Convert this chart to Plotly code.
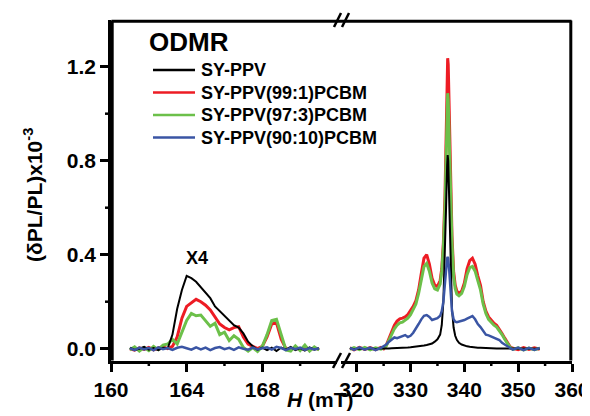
import plotly.graph_objects as go

# ---------------- data ----------------
series_names = ["SY-PPV", "SY-PPV(99:1)PCBM", "SY-PPV(97:3)PCBM", "SY-PPV(90:10)PCBM"]
series_colors = ["#000000", "#ed1c24", "#6cc04a", "#3a55a4"]

# left panel (half-field region)
x_left = [161.0, 161.25, 161.5, 161.75, 162.0, 162.25, 162.5, 162.75, 163.0, 163.25,
          163.5, 163.75, 164.0, 164.25, 164.5, 164.75, 165.0, 165.25, 165.5, 165.75,
          166.0, 166.25, 166.5, 166.75, 167.0, 167.25, 167.5, 167.75, 168.0, 168.25,
          168.5, 168.75, 169.0, 169.25, 169.5, 169.75, 170.0, 170.25, 170.5, 170.75, 171.0]

black_left = [0.005, -0.005, 0.0, 0.008, -0.004, 0.003, -0.006, 0.004, 0.002, 0.06,
              0.17, 0.25, 0.31, 0.30, 0.285, 0.26, 0.24, 0.215, 0.18, 0.16,
              0.14, 0.12, 0.10, 0.09, 0.065, 0.03, 0.01, -0.005, 0.005, -0.006,
              0.004, -0.01, 0.005, -0.004, 0.008, -0.006, 0.003, -0.008, 0.006, -0.004, 0.002]

red_left = [0.0, -0.006, 0.004, -0.003, 0.006, -0.005, 0.003, 0.008, 0.0, 0.01,
            0.05, 0.13, 0.18, 0.195, 0.21, 0.20, 0.185, 0.165, 0.135, 0.105,
            0.09, 0.08, 0.09, 0.094, 0.05, 0.02, 0.01, 0.0, 0.01, 0.05,
            0.105, 0.11, 0.04, 0.0, -0.005, 0.006, -0.004, 0.005, -0.006, 0.004, -0.003]

green_left = [-0.005, 0.008, -0.01, 0.005, -0.008, 0.01, -0.004, 0.015, 0.02, 0.04,
              0.02, 0.07, 0.12, 0.15, 0.14, 0.143, 0.12, 0.095, 0.108, 0.06,
              0.07, 0.035, 0.055, 0.04, 0.005, -0.01, 0.005, -0.012, 0.01, 0.06,
              0.12, 0.125, 0.06, -0.005, -0.01, 0.012, -0.008, 0.015, -0.01, 0.008, -0.006]

blue_left = [0.002, -0.006, 0.005, -0.003, 0.004, -0.007, 0.006, -0.002, 0.003, -0.005,
             0.004, 0.008, 0.002, -0.004, 0.006, -0.003, 0.005, -0.006, 0.003, 0.007,
             -0.002, 0.004, -0.005, 0.006, 0.0, -0.004, 0.005, -0.003, 0.002, 0.006,
             -0.004, 0.008, 0.003, -0.006, 0.004, -0.002, 0.005, -0.005, 0.003, -0.003, 0.002]

# right panel (g ~ 2 region)
x_right = [318.75, 319.5, 320.5, 321.5, 322.5, 323.5, 324.5, 325.0, 325.5, 326.0,
           326.5, 327.0, 327.5, 328.0, 328.5, 329.0, 329.5, 330.0, 330.5, 331.0,
           331.5, 332.0, 332.5, 333.0, 333.5, 334.0, 334.5, 335.0, 335.5, 335.8,
           336.1, 336.4, 336.6, 336.8, 336.9, 337.0, 337.2, 337.4, 337.7, 338.0,
           338.3, 338.6, 339.0, 339.5, 340.0, 340.5, 341.0, 341.5, 342.0, 342.5,
           343.0, 343.5, 344.0, 344.5, 345.0, 345.5, 346.0, 346.5, 347.0, 347.5,
           348.0, 348.5, 349.0, 350.0, 351.0, 352.0, 353.0, 354.0]

black_right = [0.002, -0.002, 0.001, -0.002, 0.002, -0.001, 0.001, 0.0, 0.001, 0.001,
               0.002, 0.002, 0.003, 0.003, 0.004, 0.004, 0.005, 0.006, 0.007, 0.008,
               0.01, 0.012, 0.014, 0.016, 0.019, 0.022, 0.03, 0.04, 0.06, 0.10,
               0.20, 0.40, 0.60, 0.78, 0.824, 0.80, 0.60, 0.35, 0.17, 0.09,
               0.055, 0.038, 0.025, 0.018, 0.013, 0.01, 0.008, 0.006, 0.005, 0.004,
               0.004, 0.003, 0.003, 0.002, 0.002, 0.002, 0.001, 0.001, 0.001, 0.0,
               0.001, 0.0, 0.001, 0.0, 0.001, -0.001, 0.001, 0.0]

red_right = [0.004, -0.005, 0.006, -0.003, 0.005, -0.004, 0.006, 0.0, 0.015, 0.045,
             0.075, 0.10, 0.118, 0.127, 0.13, 0.135, 0.145, 0.16, 0.18, 0.205,
             0.25, 0.32, 0.385, 0.40, 0.36, 0.30, 0.27, 0.265, 0.29, 0.34,
             0.45, 0.65, 0.88, 1.15, 1.236, 1.21, 1.0, 0.74, 0.48, 0.33,
             0.27, 0.245, 0.235, 0.245, 0.28, 0.34, 0.375, 0.385, 0.36, 0.31,
             0.27, 0.20, 0.16, 0.135, 0.12, 0.108, 0.10, 0.085, 0.065, 0.045,
             0.025, 0.008, 0.002, -0.004, 0.005, -0.003, 0.004, -0.002]

green_right = [-0.003, 0.005, -0.004, 0.006, -0.005, 0.004, -0.002, 0.003, 0.012, 0.035,
               0.06, 0.085, 0.10, 0.11, 0.113, 0.12, 0.13, 0.145, 0.165, 0.19,
               0.235, 0.30, 0.35, 0.363, 0.33, 0.28, 0.255, 0.25, 0.275, 0.33,
               0.43, 0.60, 0.80, 1.02, 1.087, 1.06, 0.88, 0.66, 0.45, 0.31,
               0.255, 0.232, 0.225, 0.235, 0.265, 0.315, 0.345, 0.35, 0.33, 0.29,
               0.25, 0.19, 0.15, 0.125, 0.11, 0.10, 0.092, 0.078, 0.06, 0.04,
               0.02, 0.006, -0.003, 0.004, -0.005, 0.003, -0.004, 0.002]

blue_right = [0.004, -0.005, 0.006, -0.004, 0.005, -0.006, 0.004, 0.01, 0.018, 0.03,
              0.04, 0.048, 0.045, 0.05, 0.056, 0.058, 0.05, 0.055, 0.068, 0.085,
              0.105, 0.125, 0.14, 0.143, 0.135, 0.122, 0.125, 0.13, 0.14, 0.16,
              0.20, 0.28, 0.35, 0.385, 0.39, 0.385, 0.33, 0.24, 0.16, 0.125,
              0.115, 0.113, 0.115, 0.12, 0.122, 0.128, 0.135, 0.139, 0.125, 0.105,
              0.092, 0.075, 0.06, 0.057, 0.052, 0.05, 0.044, 0.037, 0.025, 0.018,
              0.01, 0.004, -0.004, 0.005, -0.006, 0.004, -0.005, 0.003]

# tick labels
x_left_ticks = [160, 164, 168]
x_right_ticks = [320, 330, 340, 350, 360]
y_ticks = [0.0, 0.4, 0.8, 1.2]
y_tick_labels = ["0.0", "0.4", "0.8", "1.2"]
x_left_minor = [162, 166, 170]
x_right_minor = [325, 335, 345, 355]
y_minor = [0.2, 0.6, 1.0]

# ---------------- figure ----------------
FONT = "Liberation Sans, Arial, Helvetica, sans-serif"
left_vals = [black_left, red_left, green_left, blue_left]
right_vals = [black_right, red_right, green_right, blue_right]
widths = [2, 3, 3, 2.5]
draw_order = [1, 2, 0, 3]  # red, green, black, blue

fig = go.Figure()
for i in draw_order:
    fig.add_trace(go.Scatter(x=x_left, y=left_vals[i], mode="lines", name=series_names[i],
                             line=dict(color=series_colors[i], width=widths[i]),
                             xaxis="x", yaxis="y", showlegend=False))
    fig.add_trace(go.Scatter(x=x_right, y=right_vals[i], mode="lines", name=series_names[i],
                             line=dict(color=series_colors[i], width=widths[i]),
                             xaxis="x2", yaxis="y", showlegend=False))

# the page body has an 8px default margin: the div starts at (8, 8) in the window
OFF = 8
W, H = 590 - OFF, 416 - OFF
# plot area in window pixels (reference): x 111..572, y 20..361
PX0, PX1, PY0, PY1 = 111, 572, 20, 361
L, T = PX0 - OFF, PY0 - OFF
R, B = 590 - PX1, 416 - PY1
PW, PH = PX1 - PX0, PY1 - PY0


def px(xp):
    return (xp - PX0) / PW


def py(yp):
    return (PY1 - yp) / PH


XL_DOM = [0, px(337)]
XR_DOM = [px(341), 1]
XL_RANGE = [160, 171.95]
XR_RANGE = [317.08, 360]
Y_RANGE = [-0.0523, 1.3987]


def bold(vals, fmt):
    return ["<b>" + fmt.format(v) + "</b>" for v in vals]


tickfont = dict(family=FONT, size=21, color="black")
axis_common = dict(showline=True, linewidth=2.5, linecolor="black", ticks="outside",
                   ticklen=8, tickwidth=2.5, tickcolor="black", showgrid=False,
                   zeroline=False, tickfont=tickfont, tickmode="array")

fig.update_layout(
    width=W, height=H,
    margin=dict(l=L, r=R, t=T, b=B, autoexpand=False),
    paper_bgcolor="white", plot_bgcolor="white",
    showlegend=False,
    xaxis=dict(domain=XL_DOM, range=XL_RANGE, tickvals=x_left_ticks,
               ticktext=bold(x_left_ticks, "{}"), anchor="y", **axis_common),
    xaxis2=dict(domain=XR_DOM, range=XR_RANGE, tickvals=x_right_ticks,
                ticktext=bold(x_right_ticks, "{}"), anchor="y", **axis_common),
    yaxis=dict(range=Y_RANGE, tickvals=y_ticks, ticktext=bold(y_tick_labels, "{}"),
               anchor="x", **axis_common),
)


def xl_paper(v):
    d0, d1 = XL_DOM
    return d0 + (v - XL_RANGE[0]) / (XL_RANGE[1] - XL_RANGE[0]) * (d1 - d0)


def xr_paper(v):
    d0, d1 = XR_DOM
    return d0 + (v - XR_RANGE[0]) / (XR_RANGE[1] - XR_RANGE[0]) * (d1 - d0)


shapes = []
# frame lines placed just inside the plot area
shapes.append(dict(type="line", xref="paper", yref="paper", x0=px(112.2), x1=px(112.2),
                   y0=py(360.5), y1=py(20.5), line=dict(color="black", width=3)))
shapes.append(dict(type="line", xref="paper", yref="paper", x0=px(111.5), x1=px(571.5),
                   y0=py(21.3), y1=py(21.3), line=dict(color="black", width=3)))
shapes.append(dict(type="line", xref="paper", yref="paper", x0=px(570.8), x1=px(570.8),
                   y0=py(360.5), y1=py(20.5), line=dict(color="black", width=3)))
# minor ticks (half length)
for v in x_left_minor:
    shapes.append(dict(type="line", xref="paper", yref="paper", x0=xl_paper(v), x1=xl_paper(v),
                       y0=py(361), y1=py(366), line=dict(color="black", width=2.5)))
for v in x_right_minor:
    shapes.append(dict(type="line", xref="paper", yref="paper", x0=xr_paper(v), x1=xr_paper(v),
                       y0=py(361), y1=py(366), line=dict(color="black", width=2.5)))
for v in y_minor:
    yp = (v - Y_RANGE[0]) / (Y_RANGE[1] - Y_RANGE[0])
    shapes.append(dict(type="line", xref="paper", yref="paper", x0=px(111), x1=px(105),
                       y0=yp, y1=yp, line=dict(color="black", width=2.5)))
# break marks
for (x0, y0, x1, y1) in [(334, 27, 341, 13), (342, 27, 349, 13),
                         (333, 368, 341, 353), (342, 368, 350, 353)]:
    shapes.append(dict(type="line", xref="paper", yref="paper",
                       x0=px(x0), y0=py(y0), x1=px(x1), y1=py(y1),
                       line=dict(color="black", width=2.5)))
# legend line samples
legend_rows = [70, 92.5, 115, 137.5]
for i, yr in enumerate(legend_rows):
    shapes.append(dict(type="line", xref="paper", yref="paper",
                       x0=px(153), x1=px(195), y0=py(yr), y1=py(yr),
                       line=dict(color=series_colors[i], width=2.5)))
fig.update_layout(shapes=shapes)

ann = []
for i, yr in enumerate(legend_rows):
    ann.append(dict(x=px(199), y=py(yr), xref="paper", yref="paper",
                    text="<b>" + series_names[i] + "</b>",
                    showarrow=False, xanchor="left", yanchor="middle",
                    font=dict(family=FONT, size=18, color="black")))
ann.append(dict(x=px(147), y=py(42), xref="paper", yref="paper", text="<b>ODMR</b>",
                showarrow=False, xanchor="left", yanchor="middle",
                font=dict(family=FONT, size=26, color="black")))
ann.append(dict(x=164.55, y=0.386, xref="x", yref="y", text="<b>X4</b>", showarrow=False,
                xanchor="center", yanchor="middle",
                font=dict(family=FONT, size=18, color="black")))
ann.append(dict(x=px(33), y=py(195), xref="paper", yref="paper",
                text="<b>(δPL/PL)x10<sup>-3</sup></b>", textangle=-90, showarrow=False,
                xanchor="center", yanchor="middle",
                font=dict(family=FONT, size=21, color="black")))
ann.append(dict(x=px(320), y=py(400), xref="paper", yref="paper",
                text="<b><i>H</i> (mT)</b>", showarrow=False, xanchor="center", yanchor="middle",
                font=dict(family=FONT, size=21, color="black")))
fig.update_layout(annotations=ann)

fig.write_html("out.html")
